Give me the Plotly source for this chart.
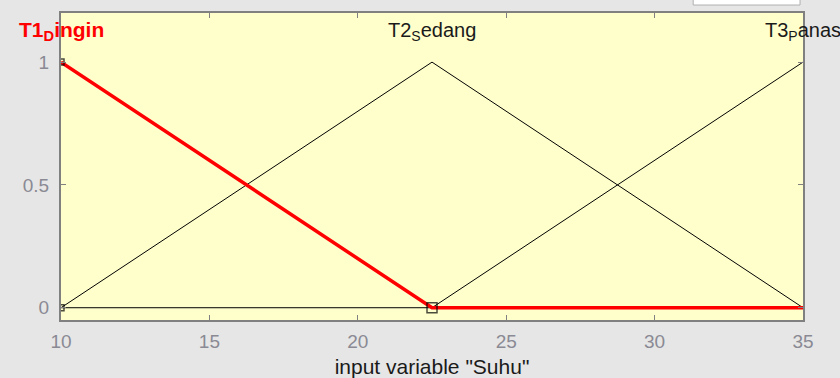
import plotly.graph_objects as go

# membership functions of input "Suhu"
x_pts = [10, 22.5, 35]
mf_dingin = [1, 0, 0]
mf_sedang = [0, 1, 0]
mf_panas = [0, 0, 1]

mf_names = ["T1<sub>D</sub>ingin", "T2<sub>S</sub>edang", "T3<sub>P</sub>anas"]
mf_peaks = [10, 22.5, 35]

x_ticks = [10, 15, 20, 25, 30, 35]
y_ticks = [0, 0.5, 1]

# vertex handles of the selected mf
handle_x = [10, 10, 22.5]
handle_y = [0, 1, 0]

fig = go.Figure()

fig.add_trace(go.Scatter(x=x_pts, y=mf_sedang, mode="lines",
                         line=dict(color="black", width=1)))
fig.add_trace(go.Scatter(x=x_pts, y=mf_panas, mode="lines",
                         line=dict(color="black", width=1)))
fig.add_trace(go.Scatter(x=x_pts, y=mf_dingin, mode="lines",
                         line=dict(color="#ff0000", width=3.5)))
fig.add_trace(go.Scatter(x=handle_x, y=handle_y, mode="markers",
                         marker=dict(symbol="square-open", size=[6, 6, 10],
                                     color="black", line=dict(width=1.5))))

for name, px in zip(mf_names, mf_peaks):
    red = name.startswith("T1")
    fig.add_annotation(x=px, y=1.125, text=("<b>%s</b>" % name) if red else name,
                       showarrow=False, xanchor="center", yanchor="middle",
                       font=dict(size=21 if red else 20, color="#ff0000" if red else "#1a1a1a"))

# small white widget cut off at the top of the window
fig.add_shape(type="rect", xref="paper", yref="paper",
              x0=0.852, x1=0.996, y0=1.026, y1=1.06,
              fillcolor="white", line=dict(color="#b0b0b0", width=1))

axis_style = dict(showline=True, linecolor="#808080", linewidth=2, mirror="ticks",
                  ticks="inside", ticklen=5, tickcolor="#808080", tickwidth=1,
                  showgrid=False, zeroline=False, automargin=False,
                  tickfont=dict(family="Liberation Sans, Arial", size=19, color="#8a8a94"))

fig.update_xaxes(range=[10, 35], tickvals=x_ticks, ticklabelstandoff=3, **axis_style,
                 title=dict(text='input variable "Suhu"', standoff=9,
                            font=dict(family="Liberation Sans, Arial", size=21, color="#1a1a1a")))
fig.update_yaxes(range=[-0.05, 1.2], tickvals=y_ticks, ticktext=["0", "0.5", "1"],
                 ticklabelstandoff=6, **axis_style)

fig.update_layout(
    width=840, height=378,
    margin=dict(l=61, r=37, t=13, b=58),
    paper_bgcolor="#e6e6e6",
    plot_bgcolor="#ffffcc",
    showlegend=False,
    font=dict(family="Liberation Sans, Arial"),
)

# drop the default page margin so the figure sits at the window corner
fig.write_html("out.html", config={"displayModeBar": False},
               post_script="document.body.style.margin='0';")
